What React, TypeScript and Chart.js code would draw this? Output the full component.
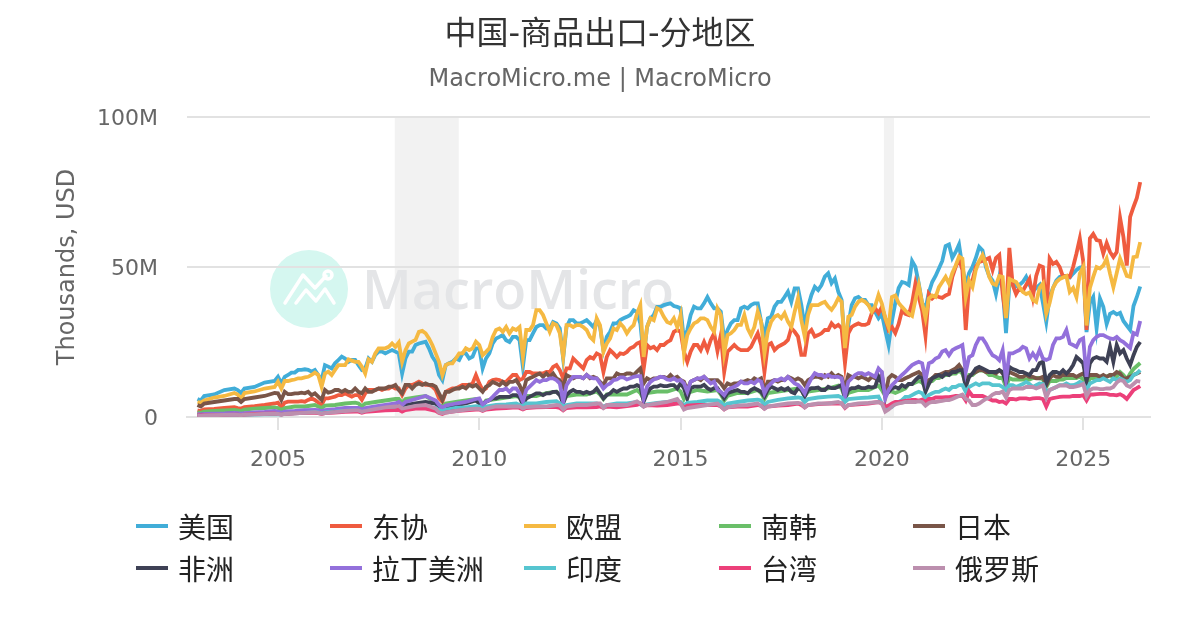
import React, { useEffect, useRef } from "react";
import { Chart, registerables } from "chart.js";

Chart.register(...registerables);

const chartTitle = "中国-商品出口-分地区";
const chartSubtitle = "MacroMicro.me | MacroMicro";
const yAxisTitle = "Thousands, USD";
const yearTicks = [2005, 2010, 2015, 2020, 2025];
const valueTicks = [0, 50, 100];
const recessions = [[2007.9, 2009.49], [2020.05, 2020.3]];

// Date grids: some series were read monthly from an earlier start than others.
const sampledMonths = [1, 2, 3, 6, 9, 12];
const allMonths = [1, 2, 3, 4, 5, 6, 7, 8, 9, 10, 11, 12];
function makeGrid(monthlyFrom: number) {
  const out: number[] = [];
  for (let y = 2003; y < monthlyFrom; y++) sampledMonths.forEach((m) => out.push(y + (m - 1) / 12));
  for (let y = monthlyFrom; y <= 2025; y++) allMonths.forEach((m) => out.push(y + (m - 1) / 12));
  [1, 2, 3, 4, 5, 6].forEach((m) => out.push(2026 + (m - 1) / 12));
  return out;
}
const gridFrom2005 = makeGrid(2005);
const gridFrom2010 = makeGrid(2010);
const gridFrom2020 = makeGrid(2020);

const usa = [
  6,5.5,7,7.5,9,9.5, 9,8,9.5,10,11.5,12,
  13.4,11.2,13.4,14,14.8,14.8,15.7,15.7,15.9,15.7,15.1,15.7,
  14,12.3,17.3,16.8,16.2,17.9,19,20.1,19.5,18.4,19,19,
  17.3,15.7,16.2,19.5,18.4,20.7,21.8,21.8,21.2,21.8,22.3,21.8,
  21.2,14.5,19.5,21.8,21.8,24,24.5,24.8,25.1,22.9,20.1,18.4,
  14,12.3,17.3,17.9,18.4,19.5,19,21.2,21.2,19.5,20.1,22.9,
  22.9,16.2,19.5,21.2,24.5,26.2,26.7,27.3,25.6,25,26.7,26.7,
  25.6,16.7,25.6,25.6,27.9,30,30.6,30.6,29.5,29.5,31.7,31.2,
  29.5,19.5,30,32.3,32.3,31.2,31.2,31.7,32.3,31.2,30,32.3,
  30,22.3,26.7,28.4,31.2,31.2,32.3,32.9,33.4,34,35.6,35,
  31.2,20,30,32.9,34,36.7,36.7,37.3,37.6,37.9,37,36.7,
  36.2,25.7,29,34,36.8,36.2,36.2,37.9,40,37.9,36.2,36.2,
  35.1,25.7,29,31.2,32.3,32.3,36.2,36.8,36.2,37.3,37.9,37.9,
  31.8,26.8,32.9,33.4,36.8,38.4,38.4,40,41.8,38.4,42.9,42.9,
  37.3,30,36.8,40.7,43.4,42.3,44,46.8,47.9,44.6,46.2,41.8,
  39,23.4,30.7,37.3,39.6,40,39,39,37.3,37.3,35,32.9,
  34.4,29,24,32,38,43,45,44.7,44,52,50,44.5,
  38,36,41.5,45,47,49.5,52,57,57.5,53,55,57.5,
  50,44,48,50,53,56.7,55.5,50,47,45.5,41,46.7,
  43,28,44,44.5,43.5,44,45,46.7,44,42,43,44,
  38,31.7,40,43,45.5,46.7,47,47,46.5,47.8,49,49.8,
  50,28.3,38,40,29.5,39.5,36.7,31,34.4,35,34.2,34.7,
  32,30.5,29,37,40,43.5,
];
const asean = [
  2.2,2,2.5,2.7,3,3.3, 3,2.8,3.3,3.6,4,4.5,
  4.8,3.2,4.8,5.1,5.1,5.1,5.1,5.3,5.1,5.7,6.2,5.7,
  4.8,4,6.2,6.2,6.5,6.8,7.3,7.3,7.9,7.3,6.8,7.3,
  7.3,5.7,7.9,9,9,9,9.5,9,9.5,9.5,10.1,9.5,
  9.5,7.3,9.5,10.7,10.7,11.2,11.8,11.2,10.7,10.7,10.1,9,
  6.2,5.1,8.4,9,9.5,9.5,10.1,10.7,10.7,10.7,11.2,14,
  11.2,9,9.5,11.7,12.3,12.5,12.3,11.7,11.7,12.9,14,14,
  12.3,12.9,15,15,14.5,14.5,14.5,14.5,15,15,16.7,17.3,
  15.6,12.9,16.2,16.2,19.5,18.4,17.3,16.2,19,20,19.5,21.2,
  20.6,15,20,22.3,21.2,20,21.2,21,21.7,22.9,23.4,24.5,
  25,16,24,22.9,23.4,22.3,24,24,25,25.6,28.4,29,
  28.4,21.8,18.4,21.8,24,24,22.3,25,22.3,25.7,27.9,22,
  27.3,15,21.8,22.9,24,22.9,22.3,22.3,22.3,23.4,25.7,27.9,
  24,15,24,24.6,22.3,23.4,24,24.6,25.7,29.6,28.4,26.8,
  20.7,20.7,27.9,29,26.8,27.3,27.9,29,29,31.2,30,30.7,
  29.6,17.9,27.9,30,30.7,31.2,30.7,30.7,31.2,34.6,36.2,34.6,
  36.7,33,29,30,28,31,35.5,34.4,34,38,44.5,40,
  35.5,27,41,39.5,40.5,40,39.7,40.5,41,46.7,50,52.8,
  49,29,44.5,45.5,50,51.7,52,52.5,53,49,53,54,
  41,33,56.4,44,41,43,42,44,46,40,47,50.5,
  50,34.5,52.8,51,51.7,50,46.7,47,46.7,50,54.5,59.5,
  52,29,59.5,61,59,58.7,54.5,58,55,53.3,55,66.4,
  60,50.5,66.7,70,73,78.3,
];
const eu = [
  5,4.8,5.5,6.5,7,8, 7.5,6,8,8.5,9.5,10,
  11.8,9.5,12,12,12.3,12.5,12.9,12.9,13.2,13.4,14,14.8,
  14,10.1,14.5,15.1,14,15.7,17.3,17.3,17.3,19.2,18.8,18.4,
  18.4,16.8,14.5,19.2,18.4,21.2,22.9,22.9,22.9,23.4,24.5,23.4,
  24.8,18.4,22.3,24.5,25.1,25.7,28.4,28.7,27.9,26.2,24,21.2,
  18.4,14,17.3,17.9,17.9,19.5,21.2,21.2,22.9,22.3,22.9,25.1,
  24,20.6,21.7,22.9,26.7,29,29.5,28.4,30,27.9,29.5,29,
  30,20,29,29,30.6,35.6,35.6,34,31.2,28.4,31.2,30.6,
  27.9,20,30.6,30.6,30,30.6,30.6,30,29,26.7,25.6,32.9,
  30.6,21.7,24.5,26.2,29.5,29,31.2,30,27.9,29.5,30.6,34.5,
  37.3,20,30,32.9,32.3,36.2,35.6,33.4,31.7,31.2,32.9,30,
  34,21.2,27.3,29.5,31.2,31.8,32.9,32.9,32.3,30,28.4,36.2,
  34,21.2,27.3,27.9,29,30.7,30.7,34,29.5,27.3,30,35.1,
  31.8,21.2,28.4,31.8,33.4,34,32.9,34.6,31.8,30,35.1,39.6,
  32.3,26.8,34,37.3,37.3,37.3,37.9,38.4,36.8,35.7,37.3,39.6,
  38.4,23,33.4,34,36.8,38.4,39,38.4,37.3,35.1,37,40.7,
  37.8,33,30,40,40.5,38,36.7,35.5,34.4,33.7,39,44,
  38,33,39.5,40.5,40,43.3,45,46.7,44.5,48,50.5,53.5,
  52.8,40,45.5,43.3,49,52,54,51,46.7,44.5,44,47,
  46.7,33,46,45.5,45,43.3,41.7,41,41.5,39,38.3,43,
  44.5,34.5,38,43,45,46,46.5,47,41.7,43,40,47.8,
  50,30.5,43,46.7,50,49.5,50.5,52.8,47.8,43.3,48,52.8,
  50,47,46.7,53.3,53.5,58.3,
];
const korea = [
  1.5,1.4,1.8,2,2.2,2.4, 2.2,2,2.5,2.8,3,3.2, 3,2.4,3,3.5,3.5,4, 3.5,3,3.8,4,4.5,4.8, 4.5,3.6,4.5,5,5.5,6, 6,4.8,6,6.5,7,5,
  4,3.5,4.5,5,5.5,6, 5.5,4,5.5,6,6.5,7, 6.5,5,7,7,8,8.5, 7.5,5.5,7,7.5,7.5,8.5, 7.5,6,7.5,7.5,7.5,9, 8,6,8,8.5,8.5,9.5,
  8.5,6,8,9,8.5,9, 7.5,5.5,7,8,8,9, 8,6,8,8.5,9,9.5, 9,7,8.5,9,9.5,10.5, 9.5,6.5,8,9,9,10.5,
  9,7,8.5,8.5,8,8.5,9,9.5,11,11,11.5,12,
  11.5,10,12,12,13,13,13.5,14,14,14.5,14.5,15.5,
  14.5,11,14,14,15,15.5,15.5,15,14,14,13.5,13,
  13,10,13,12.5,12.5,12.5,12.5,12.5,12.5,13,13,13,
  12.5,10,12,12,12,12.5,12.5,13,13,13,13,13.5,
  12.5,10,13,13,13,13.5,13,13.5,14,13,13.5,15,
  14,12.5,14.5,16,17,18,
];
const japan = [
  4,3.5,4.5,5,5.5,6, 6,5,6,6.5,7,8,
  7.9,5.7,8.4,7.6,7.6,7.9,7.9,8.1,7.9,8.4,7.3,7.9,
  6.8,5.7,9,8.1,8.4,9,9,8.4,9,8.4,8.4,9.5,
  8.4,7.9,9.5,8.4,8.4,9,9.5,9.5,9.5,10.1,10.1,10.7,
  9,7.9,10.7,10.7,9.5,10.7,11.2,10.7,11.2,10.7,10.7,10.1,
  7.9,5.7,8.4,8.4,9,9.5,9.5,10.1,9.5,10.7,10.1,10.7,
  9.5,8.4,10.1,10.6,11.7,11.2,10.6,11.7,10.6,11.7,11.7,12.3,
  10.6,7.9,12.3,12.9,13.4,14,14.5,13.4,14.5,13.4,14.5,12.9,
  12.3,10.1,14,13.4,12.9,13.4,13.4,12.9,14,12.9,13.4,12.9,
  11.7,10.6,12.9,12.9,12.9,14.5,14,14,14.5,14.5,14,15.1,
  16.2,11.2,12.9,12.3,12.9,12.9,13.4,13.4,12.9,14,12.9,13.4,
  12.3,11.8,9,11.8,12.3,12.9,12.3,13.4,12.3,12.3,12.3,12.3,
  11.2,9.6,11.2,10.7,11.2,11.2,11.8,11.8,12.3,11.8,12.9,12.3,
  12.9,9,11.8,11.8,12.3,11.8,12.3,12.3,13.4,12.9,12.3,12.9,
  12.3,10.7,12.3,12.9,13.4,13.4,12.9,14,13.4,14.6,13.4,14,
  13.4,9.6,14,13.4,13.4,12.9,13.4,12.9,12.3,13.4,12.9,12.3,
  14,6.8,12.9,14,13.4,12.3,12.3,12.9,13.4,14,14.5,15,
  14,11.2,12.3,12.9,14,14,14.5,15,15,15.6,16.2,17.3,
  15.6,12.9,13.4,14.5,15,15.6,15.6,15,15,15,14.5,15.6,
  14.5,13.4,15,14.5,14,13.4,13.4,14,13.4,13.4,12.9,12.9,
  13.4,10.5,12.9,14,13.4,13.4,14,14,14,14,13.4,14,
  14.5,12.9,14,14,14,13.4,14,13.4,14,14,15,14.5,
  12.9,12.9,13.4,14,14.5,15,
];
const africa = [
  0.8,0.7,0.9,1,1,1.2, 1,0.9,1.1,1.2,1.3,1.5, 1.3,1.1,1.4,1.6,1.7,2, 1.8,1.5,1.8,2,2.3,2.5, 2.3,2,2.4,3,3.5,4, 4,3,4,4.5,5,4.5,
  3.5,2.8,3.5,4,4.5,5.5,
  4.5,4,5.1,5.6,6.2,6.2,6.7,6.7,6.7,6.7,7.3,7.3,
  6.7,4,6.2,6.7,7.3,7.9,7.9,7.3,7.9,7.9,8.4,8.4,
  7.3,4.5,7.3,8.4,9,8.4,8.4,7.9,8.4,7.9,8.4,9.5,
  7.9,6.2,7.3,7.9,9,8.4,9,9.5,9.5,10.1,10.1,10.6,
  10.1,5.1,7.9,9.5,10.1,10.1,10.6,10.3,10.3,10.6,10.6,9.5,
  11.2,9.6,6.2,9.6,10.1,10.1,10.1,10.7,9.6,9,9.6,9.6,
  7.9,6.2,7.9,8.4,8.7,9,8.4,8.4,7.9,9,9.6,9,
  8.4,6.8,9,10.1,9.6,9,9.6,9,9.6,8.4,7.9,9.6,
  9,6.8,9,9.6,9.6,9.8,9,9,10.1,9.6,9.6,10.1,
  10.7,6.2,9,9.6,9.6,10.1,9.6,9.6,10.1,9.8,10.1,13.5,
  11.2,7.3,8.4,9.5,10,9.5,10.6,10,11,11,12.3,13.4,
  12.9,8.4,11,12.9,13.4,14,13.4,14.5,14,15,15,15.6,
  15.6,10,13.4,14.5,16.2,16.7,16.2,15.6,15,15,15,15.6,
  15,11.2,16.7,16,15.6,15,15,14.5,14,15.6,15.6,17.9,
  18.4,11.2,14,15,15,14.5,15.6,14.5,15.6,17.3,20,19,
  17.9,11.8,17.9,19.5,20,19.5,19.5,18.4,23.4,18.4,24,21.2,
  22.3,19.5,17.3,20.6,23.4,25,
];
const latam = [
  1,0.9,1,1.1,1.2,1.4, 1.3,1.1,1.3,1.5,1.7,2, 1.8,1.4,1.8,2,2.3,2.4, 2.3,1.9,2.3,2.6,3,3, 3,2.5,3,3.5,4,4.5, 5,4,5,6,7,5.5,
  4,3,3.8,4.5,5,6,
  6.2,4,5.1,5.6,6.7,7.9,9,9,9.5,8.4,9.5,9.5,
  7.9,5.1,9,10.1,11.2,12.3,11.7,12.3,12.3,12.9,12.9,12.3,
  11.2,5.1,10.6,12.3,13.4,13.4,13.4,12.9,14,13.2,12.9,12.9,
  11.2,9.5,10.6,11.2,12.3,12.5,13.2,13.2,12.5,12.9,13.4,13.6,
  13.6,6.2,10.1,11.7,12.5,12.9,13.4,13.2,12.5,12.3,12.9,12.1,
  12.3,11.2,8.4,11.8,12.3,12.9,12.9,13.4,12.3,11.2,11.8,9,
  8.4,7.3,9,9.6,10.1,10.7,11.8,11.2,11.2,11.8,11.2,12.3,
  11.8,7.9,10.1,11.2,12.3,12.3,12.9,12.3,13.4,12.3,11.2,10.7,
  9.6,7.9,10.7,12.9,14.6,14,14,13.4,14,13.4,13.4,13.4,
  12.9,6.8,11.8,12.9,14,14.6,14.6,14,14.6,14,13.4,16.2,
  15,6.2,9,10.6,11.7,12.9,14,15,16.2,17.3,17.9,18.4,
  17.9,12.3,17.9,18.4,19.5,20,21.8,22.3,20.6,22.3,22.9,23.4,
  24,15,20,20.6,24,26.2,26.2,24.5,22.3,20.6,20,18.9,
  22.3,12.3,21.2,21.2,21.8,22.3,23.4,22.9,19.5,21.2,19.5,22.3,
  19.5,19,19.5,24,26.2,26.2,26.7,29,24.5,24,23.4,25.6,
  26.2,13.4,23.4,25.6,26.7,27.3,27.3,26.7,26.2,26,26.7,25.6,
  25,24,23,28,27.5,32,
];
const india = [
  0.4,0.4,0.5,0.5,0.6,0.7, 0.6,0.6,0.7,0.8,0.9,1, 0.9,0.8,1,1.2,1.4,1.6, 1.5,1.2,1.5,1.8,2,2.2, 2,1.7,2,2.5,2.8,3, 3,2.5,3,3.5,3.5,3,
  2.3,1.9,2.4,3,3.2,3.6, 3.5,2.5,3.5,4,4.2,4.5, 4,3.5,4.5,4.5,5,5.3, 4.5,3.5,4,4.5,4.5,4.5, 4.2,3.5,4,4.5,4.5,5, 4.2,3.5,4.2,4.7,5,5.3,
  5,3.8,4.7,5,5.5,5.5, 5,3.8,4.5,5,5.5,5.8, 5.5,4,5,5.7,6.2,6.5, 6.3,5,6,6.5,6.8,7, 6.5,5,6,6.3,6.5,6.8,
  4.5,2.9,2.9,3.4,4.5,5,5.6,6.7,6.7,7.3,7.9,8.4,
  7.9,6.2,7.3,7.9,8.4,8.4,9,9.5,9,10,10,10.6,
  10.6,8.4,10,10.6,11.2,10.6,11.2,11.2,11.2,10.6,10.6,10.6,
  10,9,10.6,10.6,10,10.5,11,11.7,11,10,10.6,11.2,
  11,8.4,9,9.5,10,10.6,10.6,11.2,10.6,10.6,11,11.7,
  11.2,9,11.2,11.7,12.3,12.3,12.9,12.3,11.7,12.9,12.3,12.9,
  12.3,11.7,12.3,14,14.5,15.6,
];
const taiwan = [
  0.6,0.5,0.6,0.6,0.7,0.8, 0.8,0.6,0.8,1,1.1,1.2, 1,0.8,1,1.2,1.4,1.4, 1.3,1,1.3,1.5,1.7,1.8, 1.8,1.4,1.7,2,2.2,2.3, 2.4,1.8,2.3,2.8,2.8,2,
  1.3,1,1.5,2,2.2,2.5, 2.5,2,2.5,2.8,3,3.2, 3,2.5,3,3.2,3.3,3.3, 3,2.2,3,3.2,3.2,3.3, 3.5,3,3.5,3.2,3.6,4, 4.5,3.5,4,3.8,4,4.5,
  4.5,3,3.8,4,4,4, 3.5,2.5,3.2,3.5,3.5,4, 3.7,2.8,3.5,3.8,4,4.5, 4,3.2,4,4.3,4.5,4.5, 4.5,3,4,4.2,4.5,5,
  4.5,3.5,3.8,4.5,5,5,5.2,5.4,5.5,5.7,5.7,5.5,
  5.8,5,6,6,6.5,6.5,6.5,6.6,6.6,6.8,7,7,
  7.2,5.5,8.5,7,7,7,7,6.5,6,5.5,5.5,5,
  5.2,4.5,6,6,5.8,6.2,6.2,6.2,6,6.2,6.3,6.3,
  6,3.5,6,6.3,6.5,6.7,6.8,6.8,6.8,7,7,7,
  7.3,5.5,7.5,7.5,7.6,7.7,7.7,7.7,7.4,7.4,7.2,7.6,
  7,6,7.5,9,9.6,10.3,
];
const russia = [
  0.5,0.4,0.5,0.6,0.7,0.8, 0.7,0.6,0.8,0.9,1,1.1, 1,0.8,1,1.2,1.4,1.6, 1.4,1.1,1.3,1.6,2,2.2, 2.2,1.7,2,2.6,3.2,3.5, 3.7,2.8,3,3.7,4,2.8,
  1.5,1.2,1.5,2,2.5,2.8, 2.7,2.2,2.8,3.5,3.5,3.5, 3.5,2.8,3.3,3.5,3.5,4, 3.8,2.5,3.5,4,4,4.5, 4.5,3,4,4,4,5.2, 4.5,3.5,4,4.5,5,6,
  4.5,2.5,3,3.5,4,4.5, 3.5,2.5,3.2,3.8,4,4.5, 3.7,2.7,3.5,4,4.5,4.7, 4.5,3.2,4,4.5,4.5,5, 4.5,3.2,4,4.5,4.7,5,
  4.5,1.8,2.5,3.5,4.2,4.5,4.7,5,5,5,5,5.2,
  5,3.8,4.7,5,5,5.2,5.4,5.6,5.6,6,6.5,7,
  7.5,6,5.5,4,4,4.5,5.3,6,6.5,7.5,8,8,
  8.5,6.5,9,9.5,9.5,9.5,9.5,10,10,10,9.5,10,
  10.5,6.5,9,9.5,10,10.5,10.5,10.5,10,10,10.2,10.5,
  11,7,9,9.5,9.5,9.3,9.3,9.5,9.5,10,11.5,12.3,
  12,10.5,10,11,12,11.8,
];

const seriesNames = ["美国", "东协", "欧盟", "南韩", "日本", "非洲", "拉丁美洲", "印度", "台湾", "俄罗斯"];
const seriesValues = [usa, asean, eu, korea, japan, africa, latam, india, taiwan, russia];
const seriesDates = [gridFrom2005, gridFrom2005, gridFrom2005, gridFrom2020, gridFrom2005, gridFrom2010, gridFrom2010, gridFrom2020, gridFrom2020, gridFrom2020];
const seriesColors = ["#41ADD8", "#EF5B3F", "#F5B942", "#6ABF69", "#795548", "#3E4155", "#9370DB", "#56C5D0", "#EC407A", "#BC8FAE"];

const FONT = '"DejaVu Sans", "Noto Sans CJK SC", sans-serif';
const GRID = "#e2e2e2";

const backdrop = {
  id: "backdrop",
  beforeDraw(chart: any) {
    const { ctx, chartArea, scales } = chart;
    ctx.save();
    ctx.fillStyle = "#f2f2f2";
    recessions.forEach(([a, b]) => {
      const l = scales.x.getPixelForValue(a);
      const r = scales.x.getPixelForValue(b);
      ctx.fillRect(l, chartArea.top, r - l, chartArea.bottom - chartArea.top);
    });
    ctx.fillStyle = "#d5f7f0";
    ctx.beginPath();
    ctx.arc(309, 289, 39, 0, Math.PI * 2);
    ctx.fill();
    ctx.strokeStyle = "#ffffff";
    ctx.lineWidth = 3.5;
    ctx.lineCap = "round";
    ctx.lineJoin = "round";
    ctx.beginPath();
    ctx.moveTo(285, 303);
    ctx.lineTo(303, 275);
    ctx.lineTo(315, 288);
    ctx.lineTo(326, 276);
    ctx.stroke();
    ctx.beginPath();
    ctx.moveTo(296, 303);
    ctx.lineTo(306, 290);
    ctx.lineTo(316, 301);
    ctx.lineTo(325, 289);
    ctx.lineTo(334, 303);
    ctx.stroke();
    ctx.beginPath();
    ctx.arc(328, 275, 4, 0, Math.PI * 2);
    ctx.stroke();
    ctx.fillStyle = "#e4e5e7";
    ctx.font = '600 54px "Open Sans", sans-serif';
    ctx.textAlign = "left";
    ctx.textBaseline = "alphabetic";
    ctx.fillText("MacroMicro", 362, 309);
    ctx.restore();
  },
};

export default function App() {
  const ref = useRef<HTMLCanvasElement>(null);
  useEffect(() => {
    const chart = new Chart(ref.current as HTMLCanvasElement, {
      type: "line",
      data: {
        datasets: seriesNames.map((label, i) => ({
          label,
          data: seriesDates[i].map((x, j) => ({ x, y: seriesValues[i][j] })),
          borderColor: seriesColors[i],
          backgroundColor: seriesColors[i],
          borderWidth: 3.8,
          pointRadius: 0,
          tension: 0,
          fill: false,
          order: seriesNames.length - i,
        })),
      },
      options: {
        animation: false,
        responsive: false,
        devicePixelRatio: 1,
        layout: { padding: 0 },
        plugins: {
          legend: { display: false },
          tooltip: { enabled: false },
          title: {
            display: true,
            text: chartTitle,
            color: "#333333",
            font: { family: FONT, size: 32, weight: "normal" },
            padding: { top: 16, bottom: 11.2 },
          },
          subtitle: {
            display: true,
            text: chartSubtitle,
            color: "#666666",
            font: { family: FONT, size: 24, weight: "normal" },
            padding: { top: 0, bottom: 22.6 },
          },
        },
        scales: {
          x: {
            type: "linear",
            min: 2002.74,
            max: 2026.66,
            afterBuildTicks(axis: any) {
              axis.ticks = yearTicks.map((value) => ({ value }));
            },
            afterFit(axis: any) {
              axis.height = 213;
            },
            border: { display: true, color: GRID, width: 2 },
            grid: { drawOnChartArea: false, drawTicks: true, tickLength: 13, color: GRID, lineWidth: 2 },
            ticks: {
              autoSkip: false,
              maxRotation: 0,
              color: "#666666",
              padding: 17,
              font: { family: FONT, size: 22 },
              callback: (v: any) => String(v),
            },
          },
          y: {
            min: 0,
            max: 100,
            afterBuildTicks(axis: any) {
              axis.ticks = valueTicks.map((value) => ({ value }));
            },
            afterFit(axis: any) {
              axis.width = 187;
            },
            border: { display: false },
            grid: { drawTicks: false, color: GRID, lineWidth: 2 },
            title: {
              display: true,
              text: yAxisTitle,
              color: "#666666",
              font: { family: FONT, size: 24, weight: "normal" },
              padding: { top: 53.6, bottom: 0 },
            },
            ticks: {
              color: "#666666",
              padding: 29,
              labelOffset: 2,
              font: { family: FONT, size: 22 },
              callback: (v: any) => (v === 0 ? "0" : `${v}M`),
            },
          },
          // Empty right-hand axis: keeps the plot clear of the right edge while the titles stay centred on the page.
          rightGap: {
            axis: "y",
            position: "right",
            display: true,
            min: 0,
            max: 1,
            afterFit(axis: any) {
              axis.width = 50;
            },
            border: { display: false },
            grid: { display: false, drawOnChartArea: false },
            ticks: { display: false },
          },
        },
      } as any,
      plugins: [backdrop],
    });
    return () => chart.destroy();
  }, []);

  const colLeft = [136, 330, 524, 719, 913];
  return (
    <div style={{ position: "absolute", left: 0, top: 0, width: 1200, height: 630, background: "#fff" }}>
      <canvas ref={ref} width={1200} height={630} style={{ display: "block", width: 1200, height: 630 }} />
      {seriesNames.map((name, i) => (
        <div
          key={name}
          style={{
            position: "absolute",
            left: colLeft[i % 5],
            top: i < 5 ? 505 : 547,
            height: 42,
            display: "flex",
            alignItems: "center",
            fontFamily: FONT,
            fontSize: 28,
            color: "#222222",
            whiteSpace: "nowrap",
          }}
        >
          <span style={{ display: "inline-block", width: 32, height: 4, background: seriesColors[i], marginRight: 10, flex: "none" }} />
          {name}
        </div>
      ))}
    </div>
  );
}
